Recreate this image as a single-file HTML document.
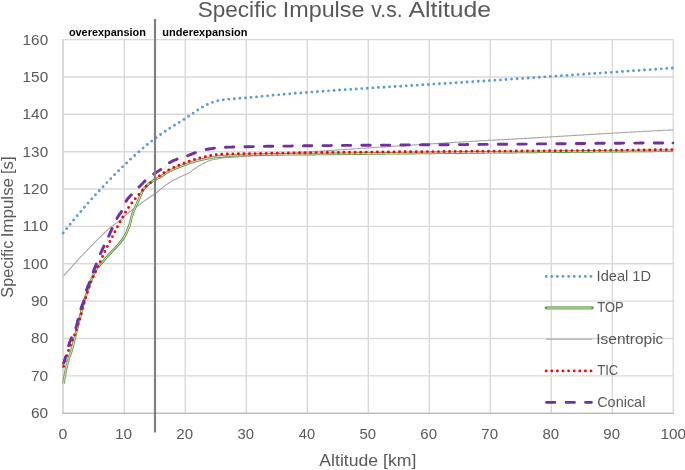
<!DOCTYPE html><html><head><meta charset="utf-8"><style>html,body{margin:0;padding:0;background:#fff;}svg{display:block;will-change:transform;}text{font-family:"Liberation Sans",sans-serif;}</style></head><body>
<svg width="685" height="470" viewBox="0 0 685 470">
<rect width="685" height="470" fill="#fff"/>
<path d="M124.30,39.6 V413.2 M185.30,39.6 V413.2 M246.30,39.6 V413.2 M307.30,39.6 V413.2 M368.30,39.6 V413.2 M429.30,39.6 V413.2 M490.30,39.6 V413.2 M551.30,39.6 V413.2 M612.30,39.6 V413.2 M673.30,39.6 V413.2 M62,39.60 H673.6 M62,76.96 H673.6 M62,114.32 H673.6 M62,151.68 H673.6 M62,189.04 H673.6 M62,226.40 H673.6 M62,263.76 H673.6 M62,301.12 H673.6 M62,338.48 H673.6 M62,375.84 H673.6" stroke="#d9d9d9" stroke-width="1.4" fill="none"/>
<path d="M63,39 V413.2" stroke="#d9d9d9" stroke-width="2" fill="none"/>
<path d="M62,413.3 H674" stroke="#bfbfbf" stroke-width="1.4" fill="none"/>
<text x="22.61" y="44.60" font-size="14.80" textLength="25.55" lengthAdjust="spacingAndGlyphs" fill="#595959">160</text>
<text x="22.61" y="81.96" font-size="14.80" textLength="25.55" lengthAdjust="spacingAndGlyphs" fill="#595959">150</text>
<text x="22.61" y="119.32" font-size="14.80" textLength="25.55" lengthAdjust="spacingAndGlyphs" fill="#595959">140</text>
<text x="22.61" y="156.68" font-size="14.80" textLength="25.55" lengthAdjust="spacingAndGlyphs" fill="#595959">130</text>
<text x="22.61" y="194.04" font-size="14.80" textLength="25.55" lengthAdjust="spacingAndGlyphs" fill="#595959">120</text>
<text x="22.55" y="231.40" font-size="14.80" textLength="25.64" lengthAdjust="spacingAndGlyphs" fill="#595959">110</text>
<text x="22.61" y="268.76" font-size="14.80" textLength="25.55" lengthAdjust="spacingAndGlyphs" fill="#595959">100</text>
<text x="31.07" y="306.12" font-size="14.80" textLength="17.11" lengthAdjust="spacingAndGlyphs" fill="#595959">90</text>
<text x="31.13" y="343.48" font-size="14.80" textLength="17.06" lengthAdjust="spacingAndGlyphs" fill="#595959">80</text>
<text x="31.02" y="380.84" font-size="14.80" textLength="17.17" lengthAdjust="spacingAndGlyphs" fill="#595959">70</text>
<text x="31.02" y="418.20" font-size="14.80" textLength="17.17" lengthAdjust="spacingAndGlyphs" fill="#595959">60</text>
<text x="58.41" y="439.10" font-size="14.80" textLength="8.81" lengthAdjust="spacingAndGlyphs" fill="#595959">0</text>
<text x="114.96" y="439.10" font-size="14.80" textLength="17.13" lengthAdjust="spacingAndGlyphs" fill="#595959">10</text>
<text x="176.34" y="439.10" font-size="14.80" textLength="16.73" lengthAdjust="spacingAndGlyphs" fill="#595959">20</text>
<text x="237.55" y="439.10" font-size="14.80" textLength="16.52" lengthAdjust="spacingAndGlyphs" fill="#595959">30</text>
<text x="298.75" y="439.10" font-size="14.80" textLength="16.30" lengthAdjust="spacingAndGlyphs" fill="#595959">40</text>
<text x="359.50" y="439.10" font-size="14.80" textLength="16.57" lengthAdjust="spacingAndGlyphs" fill="#595959">50</text>
<text x="420.34" y="439.10" font-size="14.80" textLength="16.73" lengthAdjust="spacingAndGlyphs" fill="#595959">60</text>
<text x="481.34" y="439.10" font-size="14.80" textLength="16.73" lengthAdjust="spacingAndGlyphs" fill="#595959">70</text>
<text x="542.44" y="439.10" font-size="14.80" textLength="16.62" lengthAdjust="spacingAndGlyphs" fill="#595959">80</text>
<text x="603.39" y="439.10" font-size="14.80" textLength="16.68" lengthAdjust="spacingAndGlyphs" fill="#595959">90</text>
<text x="660.56" y="439.10" font-size="14.80" textLength="25.55" lengthAdjust="spacingAndGlyphs" fill="#595959">100</text>
<text x="197.78" y="17.20" font-size="22.20" textLength="78.91" lengthAdjust="spacingAndGlyphs" fill="#595959">Specific</text>
<text x="282.75" y="17.20" font-size="22.20" textLength="81.69" lengthAdjust="spacingAndGlyphs" fill="#595959">Impulse</text>
<text x="371.31" y="17.20" font-size="22.20" textLength="31.23" lengthAdjust="spacingAndGlyphs" fill="#595959">v.s.</text>
<text x="408.54" y="17.20" font-size="22.20" textLength="82.57" lengthAdjust="spacingAndGlyphs" fill="#595959">Altitude</text>
<text x="319.35" y="466.30" font-size="17.10" textLength="58.71" lengthAdjust="spacingAndGlyphs" fill="#595959">Altitude</text>
<text x="383.06" y="466.30" font-size="17.10" textLength="33.27" lengthAdjust="spacingAndGlyphs" fill="#595959">[km]</text>
<text transform="translate(13.1,296.90) rotate(-90)" x="-0.75" y="0" font-size="17.4" textLength="56.95" lengthAdjust="spacingAndGlyphs" fill="#595959">Specific</text>
<text transform="translate(13.1,235.80) rotate(-90)" x="-1.56" y="0" font-size="17.4" textLength="59.42" lengthAdjust="spacingAndGlyphs" fill="#595959">Impulse</text>
<text transform="translate(13.1,172.90) rotate(-90)" x="-1.20" y="0" font-size="17.4" textLength="17.68" lengthAdjust="spacingAndGlyphs" fill="#595959">[s]</text>
<text x="68.88" y="35.80" font-size="11.60" font-weight="bold" textLength="77.01" lengthAdjust="spacingAndGlyphs" fill="#000">overexpansion</text>
<text x="162.34" y="35.80" font-size="11.60" font-weight="bold" textLength="85.07" lengthAdjust="spacingAndGlyphs" fill="#000">underexpansion</text>
<path d="M63.7,275.9 L64.7,274.7 L65.7,273.6 L66.7,272.4 L67.7,271.3 L68.7,270.2 L69.7,269.0 L70.7,267.9 L71.7,266.8 L72.7,265.7 L73.7,264.6 L74.7,263.4 L75.7,262.3 L76.7,261.3 L77.7,260.2 L78.7,259.1 L79.7,258.0 L80.7,256.9 L81.7,255.9 L82.7,254.8 L83.7,253.8 L84.7,252.7 L85.7,251.7 L86.7,250.6 L87.7,249.6 L88.7,248.6 L89.7,247.6 L90.7,246.5 L91.7,245.5 L92.7,244.5 L93.7,243.4 L94.7,242.4 L95.7,241.4 L96.7,240.4 L97.7,239.4 L98.7,238.4 L99.7,237.4 L100.7,236.4 L101.7,235.4 L102.7,234.4 L103.7,233.5 L104.7,232.5 L105.7,231.6 L106.7,230.7 L107.7,229.8 L108.7,228.9 L109.7,228.1 L110.7,227.3 L111.7,226.4 L112.7,225.7 L113.7,224.9 L114.7,224.3 L116.0,223.4 L117.2,222.6 L118.2,221.9 L119.2,221.2 L120.2,220.4 L121.2,219.5 L122.2,218.6 L123.2,217.6 L124.2,216.6 L125.2,215.6 L126.2,214.7 L127.2,213.9 L128.2,213.0 L129.2,212.3 L130.2,211.5 L131.2,210.8 L132.2,210.0 L133.2,209.3 L134.2,208.6 L135.2,207.8 L136.2,207.1 L137.2,206.3 L138.2,205.6 L139.2,204.8 L140.2,204.0 L141.2,203.3 L142.2,202.5 L143.2,201.8 L144.2,201.1 L145.2,200.3 L146.2,199.7 L147.2,199.0 L148.2,198.3 L149.4,197.5 L150.7,196.7 L151.9,195.8 L152.9,195.2 L153.9,194.5 L154.9,193.8 L155.9,193.0 L156.9,192.3 L157.9,191.5 L158.9,190.7 L159.9,189.9 L160.9,189.1 L161.9,188.3 L162.9,187.4 L163.9,186.6 L164.9,185.8 L165.9,185.1 L166.9,184.4 L167.9,183.7 L168.9,183.0 L170.2,182.2 L171.4,181.4 L172.7,180.7 L173.9,180.0 L175.2,179.4 L176.4,178.7 L177.7,178.0 L178.9,177.4 L180.2,176.8 L181.4,176.3 L182.7,175.8 L183.9,175.3 L185.2,174.8 L186.4,174.2 L187.7,173.6 L188.9,172.9 L190.2,172.1 L191.2,171.4 L192.2,170.6 L193.2,169.9 L194.2,169.2 L195.2,168.5 L196.2,167.8 L197.2,167.1 L198.4,166.3 L199.7,165.5 L200.9,164.8 L202.2,164.1 L203.4,163.4 L204.7,162.8 L205.9,162.2 L207.2,161.6 L208.4,161.1 L209.7,160.6 L210.9,160.2 L212.2,159.8 L213.4,159.6 L214.7,159.3 L215.9,159.2 L217.2,159.0 L218.4,158.7 L219.7,158.4 L220.9,158.2 L222.2,158.0 L223.4,157.9 L224.7,157.7 L225.9,157.6 L227.2,157.5 L228.4,157.4 L229.7,157.4 L230.9,157.3 L232.2,157.2 L233.4,157.1 L234.7,157.1 L235.9,157.0 L237.2,156.9 L238.4,156.9 L239.7,156.8 L240.9,156.7 L242.2,156.6 L243.4,156.6 L244.7,156.5 L245.9,156.4 L247.2,156.3 L248.4,156.3 L249.7,156.2 L250.9,156.1 L252.2,156.0 L253.4,155.9 L254.7,155.9 L255.9,155.8 L257.2,155.7 L258.4,155.6 L259.7,155.5 L260.9,155.4 L262.2,155.3 L263.4,155.2 L264.7,155.1 L265.9,155.0 L267.2,154.9 L268.4,154.8 L269.7,154.7 L270.9,154.6 L272.2,154.6 L273.4,154.5 L274.7,154.4 L275.9,154.3 L277.2,154.2 L278.4,154.1 L279.7,154.0 L280.9,153.9 L282.2,153.8 L283.4,153.7 L284.7,153.6 L285.9,153.5 L287.2,153.4 L288.4,153.3 L289.7,153.2 L290.9,153.1 L292.2,153.0 L293.4,153.0 L294.7,152.9 L295.9,152.8 L297.2,152.7 L298.4,152.6 L299.7,152.5 L300.9,152.4 L302.2,152.3 L303.4,152.3 L304.7,152.2 L305.9,152.1 L307.2,152.0 L308.4,151.9 L309.7,151.8 L310.9,151.7 L312.2,151.7 L313.4,151.6 L314.7,151.5 L315.9,151.4 L317.2,151.3 L318.4,151.2 L319.7,151.2 L320.9,151.1 L322.2,151.0 L323.4,150.9 L324.7,150.8 L325.9,150.7 L327.2,150.6 L328.4,150.6 L329.7,150.5 L330.9,150.4 L332.2,150.3 L333.4,150.2 L334.7,150.2 L335.9,150.1 L337.2,150.0 L338.4,149.9 L339.7,149.8 L340.9,149.7 L342.2,149.7 L343.4,149.6 L344.7,149.5 L345.9,149.4 L347.2,149.3 L348.4,149.2 L349.7,149.2 L350.9,149.1 L352.2,149.0 L353.4,148.9 L354.7,148.8 L355.9,148.7 L357.2,148.7 L358.4,148.6 L359.7,148.5 L360.9,148.4 L362.2,148.3 L363.4,148.3 L364.7,148.2 L365.9,148.1 L367.2,148.0 L368.4,147.9 L369.7,147.8 L370.9,147.8 L372.2,147.7 L373.4,147.6 L374.7,147.5 L375.9,147.4 L377.2,147.3 L378.4,147.3 L379.7,147.2 L380.9,147.1 L382.2,147.0 L383.4,146.9 L384.7,146.9 L385.9,146.8 L387.2,146.7 L388.4,146.6 L389.7,146.5 L390.9,146.4 L392.2,146.4 L393.4,146.3 L394.7,146.2 L395.9,146.1 L397.2,146.0 L398.4,146.0 L399.7,145.9 L400.9,145.8 L402.2,145.7 L403.4,145.6 L404.7,145.6 L405.9,145.5 L407.2,145.4 L408.4,145.3 L409.7,145.2 L410.9,145.2 L412.2,145.1 L413.4,145.0 L414.7,144.9 L415.9,144.8 L417.2,144.8 L418.4,144.7 L419.7,144.6 L420.9,144.5 L422.2,144.4 L423.4,144.4 L424.7,144.3 L425.9,144.2 L427.2,144.1 L428.4,144.0 L429.7,144.0 L430.9,143.9 L432.2,143.8 L433.4,143.7 L434.7,143.6 L435.9,143.6 L437.2,143.5 L438.4,143.4 L439.7,143.3 L440.9,143.3 L442.2,143.2 L443.4,143.1 L444.7,143.0 L445.9,142.9 L447.2,142.9 L448.4,142.8 L449.7,142.7 L450.9,142.6 L452.2,142.6 L453.4,142.5 L454.7,142.4 L455.9,142.3 L457.2,142.3 L458.4,142.2 L459.7,142.1 L460.9,142.0 L462.2,142.0 L463.4,141.9 L464.7,141.8 L465.9,141.7 L467.2,141.7 L468.4,141.6 L469.7,141.5 L470.9,141.4 L472.2,141.4 L473.4,141.3 L474.7,141.2 L475.9,141.1 L477.2,141.1 L478.4,141.0 L479.7,140.9 L480.9,140.8 L482.2,140.8 L483.4,140.7 L484.7,140.6 L485.9,140.6 L487.2,140.5 L488.4,140.4 L489.7,140.4 L490.9,140.3 L492.2,140.2 L493.4,140.1 L494.7,140.1 L495.9,140.0 L497.2,139.9 L498.4,139.9 L499.7,139.8 L500.9,139.7 L502.2,139.7 L503.4,139.6 L504.7,139.5 L505.9,139.5 L507.2,139.4 L508.4,139.3 L509.7,139.3 L510.9,139.2 L512.2,139.1 L513.5,139.1 L514.7,139.0 L516.0,138.9 L517.2,138.9 L518.5,138.8 L519.7,138.7 L521.0,138.6 L522.2,138.6 L523.5,138.5 L524.7,138.4 L526.0,138.4 L527.2,138.3 L528.5,138.2 L529.7,138.1 L531.0,138.1 L532.2,138.0 L533.5,137.9 L534.7,137.9 L536.0,137.8 L537.2,137.7 L538.5,137.6 L539.7,137.6 L541.0,137.5 L542.2,137.4 L543.5,137.3 L544.7,137.3 L546.0,137.2 L547.2,137.1 L548.5,137.0 L549.7,137.0 L551.0,136.9 L552.2,136.8 L553.5,136.7 L554.7,136.7 L556.0,136.6 L557.2,136.5 L558.5,136.4 L559.7,136.4 L561.0,136.3 L562.2,136.2 L563.5,136.1 L564.7,136.0 L566.0,136.0 L567.2,135.9 L568.5,135.8 L569.7,135.7 L571.0,135.7 L572.2,135.6 L573.5,135.5 L574.7,135.4 L576.0,135.4 L577.2,135.3 L578.5,135.2 L579.7,135.1 L581.0,135.1 L582.2,135.0 L583.5,134.9 L584.7,134.8 L586.0,134.7 L587.2,134.7 L588.5,134.6 L589.7,134.5 L591.0,134.4 L592.2,134.4 L593.5,134.3 L594.7,134.2 L596.0,134.1 L597.2,134.1 L598.5,134.0 L599.7,133.9 L601.0,133.8 L602.2,133.8 L603.5,133.7 L604.7,133.6 L606.0,133.5 L607.2,133.5 L608.5,133.4 L609.7,133.3 L611.0,133.2 L612.2,133.2 L613.5,133.1 L614.7,133.0 L616.0,133.0 L617.2,132.9 L618.5,132.8 L619.7,132.7 L621.0,132.7 L622.2,132.6 L623.5,132.5 L624.7,132.5 L626.0,132.4 L627.2,132.3 L628.5,132.2 L629.7,132.2 L631.0,132.1 L632.2,132.0 L633.5,132.0 L634.7,131.9 L636.0,131.8 L637.2,131.8 L638.5,131.7 L639.7,131.6 L641.0,131.5 L642.2,131.5 L643.5,131.4 L644.7,131.3 L646.0,131.3 L647.2,131.2 L648.5,131.2 L649.7,131.1 L651.0,131.0 L652.2,131.0 L653.5,130.9 L654.7,130.8 L656.0,130.8 L657.2,130.7 L658.5,130.6 L659.7,130.6 L661.0,130.5 L662.2,130.5 L663.5,130.4 L664.7,130.3 L666.0,130.3 L667.2,130.2 L668.5,130.1 L669.7,130.1 L671.0,130.0 L672.2,130.0 L673.3,129.9" stroke="#a5a5a5" stroke-width="1.1" fill="none" stroke-linejoin="round"/>
<path d="M63.5,383.6 L63.8,381.9 L64.0,380.2 L64.2,378.5 L64.5,377.0 L64.8,375.6 L65.0,374.2 L65.2,373.0 L65.5,371.7 L65.8,370.5 L66.0,369.3 L66.5,367.1 L67.0,364.9 L67.5,363.0 L68.0,361.1 L68.5,359.3 L69.0,357.7 L69.5,356.3 L70.0,354.9 L70.5,353.6 L71.0,352.2 L71.5,350.7 L72.0,348.9 L72.5,347.1 L73.0,345.1 L73.5,343.0 L74.0,340.9 L74.5,338.9 L75.0,336.9 L75.5,334.9 L76.0,332.9 L76.5,331.0 L77.0,329.0 L77.5,327.0 L78.0,325.0 L78.5,323.0 L79.0,321.1 L79.5,319.1 L80.0,317.1 L80.5,315.1 L81.0,313.0 L81.5,310.9 L82.0,308.9 L82.5,306.8 L83.0,304.9 L83.5,303.0 L84.0,301.3 L84.5,299.7 L85.0,298.2 L85.5,296.7 L86.0,295.3 L86.5,293.9 L87.0,292.6 L87.5,291.2 L88.0,289.8 L88.5,288.4 L89.0,287.0 L89.5,285.4 L90.0,283.9 L90.5,282.4 L91.0,281.0 L91.5,279.6 L92.0,278.3 L92.5,277.1 L93.0,275.9 L93.5,274.8 L94.2,273.2 L95.0,271.6 L95.8,270.3 L96.5,269.0 L97.2,267.9 L98.0,267.0 L99.0,265.8 L100.0,264.8 L101.0,263.7 L102.0,262.6 L103.0,261.4 L104.0,260.3 L105.0,259.1 L106.0,257.9 L107.0,256.8 L108.0,255.7 L109.0,254.6 L110.0,253.5 L111.0,252.5 L112.0,251.4 L113.0,250.4 L114.0,249.4 L115.0,248.4 L116.0,247.3 L117.0,246.2 L118.0,245.0 L119.0,243.8 L120.0,242.6 L121.0,241.4 L121.8,240.4 L122.5,239.4 L123.2,238.3 L124.0,237.2 L124.8,236.0 L125.5,234.6 L126.2,233.2 L127.0,231.5 L127.5,230.4 L128.0,229.1 L128.5,227.8 L129.0,226.4 L129.5,225.0 L130.0,223.3 L130.5,221.4 L131.0,219.3 L131.5,217.3 L132.0,215.5 L132.5,214.0 L133.0,212.7 L133.5,211.4 L134.0,210.2 L134.5,209.0 L135.0,207.9 L135.5,206.7 L136.0,205.6 L136.8,204.0 L137.5,202.4 L138.2,200.8 L138.8,199.7 L139.2,198.5 L139.8,197.3 L140.2,196.1 L140.8,194.9 L141.2,193.7 L141.8,192.5 L142.5,191.0 L143.2,189.8 L144.0,188.7 L144.8,187.8 L145.8,186.6 L146.8,185.6 L147.8,184.7 L148.8,183.8 L149.8,183.1 L150.8,182.4 L151.8,181.7 L152.8,181.0 L154.0,180.2 L155.2,179.5 L156.5,178.8 L157.8,178.1 L159.0,177.5 L160.2,176.9 L161.5,176.1 L162.8,175.3 L163.8,174.6 L164.8,173.9 L165.8,173.2 L167.0,172.5 L168.2,171.7 L169.5,171.1 L170.8,170.5 L172.0,169.9 L173.2,169.3 L174.5,168.8 L175.8,168.2 L177.0,167.7 L178.2,167.2 L179.5,166.7 L180.8,166.2 L182.0,165.8 L183.2,165.3 L184.5,164.9 L185.8,164.4 L187.0,164.0 L188.2,163.6 L189.5,163.1 L190.8,162.7 L192.0,162.3 L193.2,161.9 L194.5,161.5 L195.8,161.1 L197.0,160.7 L198.2,160.4 L199.5,160.0 L200.8,159.7 L202.0,159.4 L203.2,159.2 L204.5,158.9 L205.8,158.6 L207.0,158.4 L208.2,158.1 L209.5,157.9 L210.8,157.7 L212.0,157.5 L213.2,157.3 L214.5,157.2 L215.8,157.0 L217.0,156.9 L218.2,156.7 L219.5,156.6 L220.8,156.5 L222.0,156.4 L223.2,156.2 L224.5,156.1 L225.8,156.0 L227.0,155.9 L228.2,155.8 L229.5,155.7 L230.8,155.6 L232.0,155.5 L233.2,155.4 L234.5,155.3 L235.8,155.3 L237.0,155.2 L238.2,155.1 L239.5,155.1 L240.8,155.0 L242.0,155.0 L243.2,154.9 L244.5,154.9 L245.8,154.8 L247.0,154.8 L248.2,154.8 L249.5,154.8 L250.8,154.7 L252.0,154.7 L253.2,154.7 L254.5,154.7 L255.8,154.7 L257.0,154.6 L258.2,154.6 L259.5,154.6 L260.8,154.6 L262.0,154.6 L263.2,154.6 L264.5,154.5 L265.8,154.5 L267.0,154.5 L268.2,154.5 L269.5,154.5 L270.8,154.5 L272.0,154.5 L273.2,154.4 L274.5,154.4 L275.8,154.4 L277.0,154.4 L278.2,154.4 L279.5,154.4 L280.8,154.4 L282.0,154.3 L283.2,154.3 L284.5,154.3 L285.8,154.3 L287.0,154.3 L288.2,154.3 L289.5,154.3 L290.8,154.3 L292.0,154.3 L293.2,154.2 L294.5,154.2 L295.8,154.2 L297.0,154.2 L298.2,154.2 L299.5,154.2 L300.8,154.2 L302.0,154.2 L303.2,154.2 L304.5,154.1 L305.8,154.1 L307.0,154.1 L308.2,154.1 L309.5,154.1 L310.8,154.1 L312.0,154.1 L313.2,154.1 L314.5,154.1 L315.8,154.0 L317.0,154.0 L318.2,154.0 L319.5,154.0 L320.8,154.0 L322.0,154.0 L323.2,154.0 L324.5,154.0 L325.8,153.9 L327.0,153.9 L328.2,153.9 L329.5,153.9 L330.8,153.9 L332.0,153.9 L333.2,153.9 L334.5,153.9 L335.8,153.8 L337.0,153.8 L338.2,153.8 L339.5,153.8 L340.8,153.8 L342.0,153.8 L343.2,153.8 L344.5,153.8 L345.8,153.7 L347.0,153.7 L348.2,153.7 L349.5,153.7 L350.8,153.7 L352.0,153.7 L353.2,153.7 L354.5,153.7 L355.8,153.6 L357.0,153.6 L358.2,153.6 L359.5,153.6 L360.8,153.6 L362.0,153.6 L363.2,153.6 L364.5,153.6 L365.8,153.5 L367.0,153.5 L368.2,153.5 L369.5,153.5 L370.8,153.5 L372.0,153.5 L373.2,153.5 L374.5,153.5 L375.8,153.4 L377.0,153.4 L378.2,153.4 L379.5,153.4 L380.8,153.4 L382.0,153.4 L383.2,153.4 L384.5,153.4 L385.8,153.3 L387.0,153.3 L388.2,153.3 L389.5,153.3 L390.8,153.3 L392.0,153.3 L393.2,153.3 L394.5,153.3 L395.8,153.2 L397.0,153.2 L398.2,153.2 L399.5,153.2 L400.8,153.2 L402.0,153.2 L403.2,153.2 L404.5,153.2 L405.8,153.1 L407.0,153.1 L408.2,153.1 L409.5,153.1 L410.8,153.1 L412.0,153.1 L413.2,153.1 L414.5,153.1 L415.8,153.0 L417.0,153.0 L418.2,153.0 L419.5,153.0 L420.8,153.0 L422.0,153.0 L423.2,153.0 L424.5,153.0 L425.8,152.9 L427.0,152.9 L428.2,152.9 L429.5,152.9 L430.8,152.9 L432.0,152.9 L433.2,152.9 L434.5,152.9 L435.8,152.8 L437.0,152.8 L438.2,152.8 L439.5,152.8 L440.8,152.8 L442.0,152.8 L443.2,152.8 L444.5,152.8 L445.8,152.7 L447.0,152.7 L448.2,152.7 L449.5,152.7 L450.8,152.7 L452.0,152.7 L453.2,152.7 L454.5,152.7 L455.8,152.6 L457.0,152.6 L458.2,152.6 L459.5,152.6 L460.8,152.6 L462.0,152.6 L463.2,152.6 L464.5,152.6 L465.8,152.5 L467.0,152.5 L468.2,152.5 L469.5,152.5 L470.8,152.5 L472.0,152.5 L473.2,152.5 L474.5,152.5 L475.8,152.4 L477.0,152.4 L478.2,152.4 L479.5,152.4 L480.8,152.4 L482.0,152.4 L483.2,152.4 L484.5,152.4 L485.8,152.3 L487.0,152.3 L488.2,152.3 L489.5,152.3 L490.8,152.3 L492.0,152.3 L493.2,152.3 L494.5,152.3 L495.8,152.3 L497.0,152.2 L498.2,152.2 L499.5,152.2 L500.8,152.2 L502.0,152.2 L503.2,152.2 L504.5,152.2 L505.8,152.2 L507.0,152.1 L508.2,152.1 L509.5,152.1 L510.8,152.1 L512.0,152.1 L513.2,152.1 L514.5,152.1 L515.8,152.1 L517.0,152.0 L518.2,152.0 L519.5,152.0 L520.8,152.0 L522.0,152.0 L523.2,152.0 L524.5,152.0 L525.8,152.0 L527.0,152.0 L528.2,151.9 L529.5,151.9 L530.8,151.9 L532.0,151.9 L533.2,151.9 L534.5,151.9 L535.8,151.9 L537.0,151.9 L538.2,151.8 L539.5,151.8 L540.8,151.8 L542.0,151.8 L543.2,151.8 L544.5,151.8 L545.8,151.8 L547.0,151.8 L548.2,151.8 L549.5,151.7 L550.8,151.7 L552.0,151.7 L553.2,151.7 L554.5,151.7 L555.8,151.7 L557.0,151.7 L558.2,151.7 L559.5,151.6 L560.8,151.6 L562.0,151.6 L563.2,151.6 L564.5,151.6 L565.8,151.6 L567.0,151.6 L568.2,151.6 L569.5,151.6 L570.8,151.5 L572.0,151.5 L573.2,151.5 L574.5,151.5 L575.8,151.5 L577.0,151.5 L578.2,151.5 L579.5,151.5 L580.8,151.5 L582.0,151.4 L583.2,151.4 L584.5,151.4 L585.8,151.4 L587.0,151.4 L588.2,151.4 L589.5,151.4 L590.8,151.4 L592.0,151.4 L593.2,151.3 L594.5,151.3 L595.8,151.3 L597.0,151.3 L598.2,151.3 L599.5,151.3 L600.8,151.3 L602.0,151.3 L603.2,151.3 L604.5,151.2 L605.8,151.2 L607.0,151.2 L608.2,151.2 L609.5,151.2 L610.8,151.2 L612.0,151.2 L613.2,151.2 L614.5,151.2 L615.8,151.2 L617.0,151.1 L618.2,151.1 L619.5,151.1 L620.8,151.1 L622.0,151.1 L623.2,151.1 L624.5,151.1 L625.8,151.1 L627.0,151.1 L628.2,151.0 L629.5,151.0 L630.8,151.0 L632.0,151.0 L633.2,151.0 L634.5,151.0 L635.8,151.0 L637.0,151.0 L638.2,151.0 L639.5,151.0 L640.8,150.9 L642.0,150.9 L643.2,150.9 L644.5,150.9 L645.8,150.9 L647.0,150.9 L648.2,150.9 L649.5,150.9 L650.8,150.9 L652.0,150.9 L653.2,150.9 L654.5,150.8 L655.8,150.8 L657.0,150.8 L658.2,150.8 L659.5,150.8 L660.8,150.8 L662.0,150.8 L663.2,150.8 L664.5,150.8 L665.8,150.8 L667.0,150.7 L668.2,150.7 L669.5,150.7 L670.8,150.7 L672.0,150.7 L673.0,150.7" stroke="#5f9445" stroke-width="2.6" fill="none" stroke-linecap="butt" stroke-linejoin="round"/>
<path d="M63.5,383.6 L63.8,381.9 L64.0,380.2 L64.2,378.5 L64.5,377.0 L64.8,375.6 L65.0,374.2 L65.2,373.0 L65.5,371.7 L65.8,370.5 L66.0,369.3 L66.5,367.1 L67.0,364.9 L67.5,363.0 L68.0,361.1 L68.5,359.3 L69.0,357.7 L69.5,356.3 L70.0,354.9 L70.5,353.6 L71.0,352.2 L71.5,350.7 L72.0,348.9 L72.5,347.1 L73.0,345.1 L73.5,343.0 L74.0,340.9 L74.5,338.9 L75.0,336.9 L75.5,334.9 L76.0,332.9 L76.5,331.0 L77.0,329.0 L77.5,327.0 L78.0,325.0 L78.5,323.0 L79.0,321.1 L79.5,319.1 L80.0,317.1 L80.5,315.1 L81.0,313.0 L81.5,310.9 L82.0,308.9 L82.5,306.8 L83.0,304.9 L83.5,303.0 L84.0,301.3 L84.5,299.7 L85.0,298.2 L85.5,296.7 L86.0,295.3 L86.5,293.9 L87.0,292.6 L87.5,291.2 L88.0,289.8 L88.5,288.4 L89.0,287.0 L89.5,285.4 L90.0,283.9 L90.5,282.4 L91.0,281.0 L91.5,279.6 L92.0,278.3 L92.5,277.1 L93.0,275.9 L93.5,274.8 L94.2,273.2 L95.0,271.6 L95.8,270.3 L96.5,269.0 L97.2,267.9 L98.0,267.0 L99.0,265.8 L100.0,264.8 L101.0,263.7 L102.0,262.6 L103.0,261.4 L104.0,260.3 L105.0,259.1 L106.0,257.9 L107.0,256.8 L108.0,255.7 L109.0,254.6 L110.0,253.5 L111.0,252.5 L112.0,251.4 L113.0,250.4 L114.0,249.4 L115.0,248.4 L116.0,247.3 L117.0,246.2 L118.0,245.0 L119.0,243.8 L120.0,242.6 L121.0,241.4 L121.8,240.4 L122.5,239.4 L123.2,238.3 L124.0,237.2 L124.8,236.0 L125.5,234.6 L126.2,233.2 L127.0,231.5 L127.5,230.4 L128.0,229.1 L128.5,227.8 L129.0,226.4 L129.5,225.0 L130.0,223.3 L130.5,221.4 L131.0,219.3 L131.5,217.3 L132.0,215.5 L132.5,214.0 L133.0,212.7 L133.5,211.4 L134.0,210.2 L134.5,209.0 L135.0,207.9 L135.5,206.7 L136.0,205.6 L136.8,204.0 L137.5,202.4 L138.2,200.8 L138.8,199.7 L139.2,198.5 L139.8,197.3 L140.2,196.1 L140.8,194.9 L141.2,193.7 L141.8,192.5 L142.5,191.0 L143.2,189.8 L144.0,188.7 L144.8,187.8 L145.8,186.6 L146.8,185.6 L147.8,184.7 L148.8,183.8 L149.8,183.1 L150.8,182.4 L151.8,181.7 L152.8,181.0 L154.0,180.2 L155.2,179.5 L156.5,178.8 L157.8,178.1 L159.0,177.5 L160.2,176.9 L161.5,176.1 L162.8,175.3 L163.8,174.6 L164.8,173.9 L165.8,173.2 L167.0,172.5 L168.2,171.7 L169.5,171.1 L170.8,170.5 L172.0,169.9 L173.2,169.3 L174.5,168.8 L175.8,168.2 L177.0,167.7 L178.2,167.2 L179.5,166.7 L180.8,166.2 L182.0,165.8 L183.2,165.3 L184.5,164.9 L185.8,164.4 L187.0,164.0 L188.2,163.6 L189.5,163.1 L190.8,162.7 L192.0,162.3 L193.2,161.9 L194.5,161.5 L195.8,161.1 L197.0,160.7 L198.2,160.4 L199.5,160.0 L200.8,159.7 L202.0,159.4 L203.2,159.2 L204.5,158.9 L205.8,158.6 L207.0,158.4 L208.2,158.1 L209.5,157.9 L210.8,157.7 L212.0,157.5 L213.2,157.3 L214.5,157.2 L215.8,157.0 L217.0,156.9 L218.2,156.7 L219.5,156.6 L220.8,156.5 L222.0,156.4 L223.2,156.2 L224.5,156.1 L225.8,156.0 L227.0,155.9 L228.2,155.8 L229.5,155.7 L230.8,155.6 L232.0,155.5 L233.2,155.4 L234.5,155.3 L235.8,155.3 L237.0,155.2 L238.2,155.1 L239.5,155.1 L240.8,155.0 L242.0,155.0 L243.2,154.9 L244.5,154.9 L245.8,154.8 L247.0,154.8 L248.2,154.8 L249.5,154.8 L250.8,154.7 L252.0,154.7 L253.2,154.7 L254.5,154.7 L255.8,154.7 L257.0,154.6 L258.2,154.6 L259.5,154.6 L260.8,154.6 L262.0,154.6 L263.2,154.6 L264.5,154.5 L265.8,154.5 L267.0,154.5 L268.2,154.5 L269.5,154.5 L270.8,154.5 L272.0,154.5 L273.2,154.4 L274.5,154.4 L275.8,154.4 L277.0,154.4 L278.2,154.4 L279.5,154.4 L280.8,154.4 L282.0,154.3 L283.2,154.3 L284.5,154.3 L285.8,154.3 L287.0,154.3 L288.2,154.3 L289.5,154.3 L290.8,154.3 L292.0,154.3 L293.2,154.2 L294.5,154.2 L295.8,154.2 L297.0,154.2 L298.2,154.2 L299.5,154.2 L300.8,154.2 L302.0,154.2 L303.2,154.2 L304.5,154.1 L305.8,154.1 L307.0,154.1 L308.2,154.1 L309.5,154.1 L310.8,154.1 L312.0,154.1 L313.2,154.1 L314.5,154.1 L315.8,154.0 L317.0,154.0 L318.2,154.0 L319.5,154.0 L320.8,154.0 L322.0,154.0 L323.2,154.0 L324.5,154.0 L325.8,153.9 L327.0,153.9 L328.2,153.9 L329.5,153.9 L330.8,153.9 L332.0,153.9 L333.2,153.9 L334.5,153.9 L335.8,153.8 L337.0,153.8 L338.2,153.8 L339.5,153.8 L340.8,153.8 L342.0,153.8 L343.2,153.8 L344.5,153.8 L345.8,153.7 L347.0,153.7 L348.2,153.7 L349.5,153.7 L350.8,153.7 L352.0,153.7 L353.2,153.7 L354.5,153.7 L355.8,153.6 L357.0,153.6 L358.2,153.6 L359.5,153.6 L360.8,153.6 L362.0,153.6 L363.2,153.6 L364.5,153.6 L365.8,153.5 L367.0,153.5 L368.2,153.5 L369.5,153.5 L370.8,153.5 L372.0,153.5 L373.2,153.5 L374.5,153.5 L375.8,153.4 L377.0,153.4 L378.2,153.4 L379.5,153.4 L380.8,153.4 L382.0,153.4 L383.2,153.4 L384.5,153.4 L385.8,153.3 L387.0,153.3 L388.2,153.3 L389.5,153.3 L390.8,153.3 L392.0,153.3 L393.2,153.3 L394.5,153.3 L395.8,153.2 L397.0,153.2 L398.2,153.2 L399.5,153.2 L400.8,153.2 L402.0,153.2 L403.2,153.2 L404.5,153.2 L405.8,153.1 L407.0,153.1 L408.2,153.1 L409.5,153.1 L410.8,153.1 L412.0,153.1 L413.2,153.1 L414.5,153.1 L415.8,153.0 L417.0,153.0 L418.2,153.0 L419.5,153.0 L420.8,153.0 L422.0,153.0 L423.2,153.0 L424.5,153.0 L425.8,152.9 L427.0,152.9 L428.2,152.9 L429.5,152.9 L430.8,152.9 L432.0,152.9 L433.2,152.9 L434.5,152.9 L435.8,152.8 L437.0,152.8 L438.2,152.8 L439.5,152.8 L440.8,152.8 L442.0,152.8 L443.2,152.8 L444.5,152.8 L445.8,152.7 L447.0,152.7 L448.2,152.7 L449.5,152.7 L450.8,152.7 L452.0,152.7 L453.2,152.7 L454.5,152.7 L455.8,152.6 L457.0,152.6 L458.2,152.6 L459.5,152.6 L460.8,152.6 L462.0,152.6 L463.2,152.6 L464.5,152.6 L465.8,152.5 L467.0,152.5 L468.2,152.5 L469.5,152.5 L470.8,152.5 L472.0,152.5 L473.2,152.5 L474.5,152.5 L475.8,152.4 L477.0,152.4 L478.2,152.4 L479.5,152.4 L480.8,152.4 L482.0,152.4 L483.2,152.4 L484.5,152.4 L485.8,152.3 L487.0,152.3 L488.2,152.3 L489.5,152.3 L490.8,152.3 L492.0,152.3 L493.2,152.3 L494.5,152.3 L495.8,152.3 L497.0,152.2 L498.2,152.2 L499.5,152.2 L500.8,152.2 L502.0,152.2 L503.2,152.2 L504.5,152.2 L505.8,152.2 L507.0,152.1 L508.2,152.1 L509.5,152.1 L510.8,152.1 L512.0,152.1 L513.2,152.1 L514.5,152.1 L515.8,152.1 L517.0,152.0 L518.2,152.0 L519.5,152.0 L520.8,152.0 L522.0,152.0 L523.2,152.0 L524.5,152.0 L525.8,152.0 L527.0,152.0 L528.2,151.9 L529.5,151.9 L530.8,151.9 L532.0,151.9 L533.2,151.9 L534.5,151.9 L535.8,151.9 L537.0,151.9 L538.2,151.8 L539.5,151.8 L540.8,151.8 L542.0,151.8 L543.2,151.8 L544.5,151.8 L545.8,151.8 L547.0,151.8 L548.2,151.8 L549.5,151.7 L550.8,151.7 L552.0,151.7 L553.2,151.7 L554.5,151.7 L555.8,151.7 L557.0,151.7 L558.2,151.7 L559.5,151.6 L560.8,151.6 L562.0,151.6 L563.2,151.6 L564.5,151.6 L565.8,151.6 L567.0,151.6 L568.2,151.6 L569.5,151.6 L570.8,151.5 L572.0,151.5 L573.2,151.5 L574.5,151.5 L575.8,151.5 L577.0,151.5 L578.2,151.5 L579.5,151.5 L580.8,151.5 L582.0,151.4 L583.2,151.4 L584.5,151.4 L585.8,151.4 L587.0,151.4 L588.2,151.4 L589.5,151.4 L590.8,151.4 L592.0,151.4 L593.2,151.3 L594.5,151.3 L595.8,151.3 L597.0,151.3 L598.2,151.3 L599.5,151.3 L600.8,151.3 L602.0,151.3 L603.2,151.3 L604.5,151.2 L605.8,151.2 L607.0,151.2 L608.2,151.2 L609.5,151.2 L610.8,151.2 L612.0,151.2 L613.2,151.2 L614.5,151.2 L615.8,151.2 L617.0,151.1 L618.2,151.1 L619.5,151.1 L620.8,151.1 L622.0,151.1 L623.2,151.1 L624.5,151.1 L625.8,151.1 L627.0,151.1 L628.2,151.0 L629.5,151.0 L630.8,151.0 L632.0,151.0 L633.2,151.0 L634.5,151.0 L635.8,151.0 L637.0,151.0 L638.2,151.0 L639.5,151.0 L640.8,150.9 L642.0,150.9 L643.2,150.9 L644.5,150.9 L645.8,150.9 L647.0,150.9 L648.2,150.9 L649.5,150.9 L650.8,150.9 L652.0,150.9 L653.2,150.9 L654.5,150.8 L655.8,150.8 L657.0,150.8 L658.2,150.8 L659.5,150.8 L660.8,150.8 L662.0,150.8 L663.2,150.8 L664.5,150.8 L665.8,150.8 L667.0,150.7 L668.2,150.7 L669.5,150.7 L670.8,150.7 L672.0,150.7 L673.0,150.7" stroke="#ffffff" stroke-width="0.85" fill="none" stroke-linecap="butt" stroke-linejoin="round" opacity="0.9"/>
<path d="M63.6,366.4 L64.1,364.6 L64.6,362.9 L65.1,361.2 L65.6,359.5 L66.1,357.8 L66.6,356.2 L67.1,354.6 L67.6,353.1 L68.1,351.6 L68.6,350.1 L69.1,348.7 L69.6,347.3 L70.1,346.0 L70.6,344.8 L71.1,343.6 L71.6,342.4 L72.1,341.2 L72.6,339.9 L73.1,338.7 L73.6,337.4 L74.1,336.1 L74.6,334.8 L75.1,333.4 L75.6,331.9 L76.1,330.4 L76.6,328.9 L77.1,327.4 L77.6,325.8 L78.1,324.2 L78.6,322.6 L79.1,321.0 L79.6,319.3 L80.1,317.7 L80.6,316.0 L81.1,314.3 L81.6,312.6 L82.1,310.8 L82.6,309.0 L83.1,307.1 L83.6,305.2 L84.1,303.3 L84.6,301.5 L85.1,299.7 L85.6,297.9 L86.1,296.2 L86.6,294.6 L87.1,293.0 L87.6,291.4 L88.1,289.9 L88.6,288.4 L89.1,287.0 L89.6,285.5 L90.1,284.2 L90.6,282.9 L91.1,281.6 L91.6,280.4 L92.1,279.3 L92.6,278.1 L93.1,277.0 L93.8,275.4 L94.6,273.8 L95.3,272.2 L96.1,270.6 L96.8,268.9 L97.6,267.4 L98.3,265.8 L99.1,264.2 L99.8,262.6 L100.6,261.0 L101.1,259.9 L101.6,258.7 L102.1,257.6 L102.6,256.5 L103.1,255.4 L103.6,254.2 L104.1,253.1 L104.8,251.5 L105.6,249.9 L106.3,248.4 L107.1,246.9 L107.8,245.4 L108.6,243.9 L109.3,242.5 L110.1,241.0 L110.8,239.5 L111.6,238.1 L112.3,236.7 L113.1,235.2 L113.8,233.8 L114.6,232.4 L115.3,230.9 L116.1,229.5 L116.8,228.0 L117.6,226.5 L118.3,225.1 L119.1,223.7 L119.8,222.2 L120.6,220.9 L121.3,219.5 L122.1,218.1 L122.8,216.8 L123.6,215.4 L124.3,214.1 L125.1,212.9 L125.8,211.7 L126.6,210.5 L127.3,209.3 L128.1,208.2 L128.8,207.1 L129.6,206.0 L130.3,205.0 L131.1,203.9 L131.8,202.9 L132.6,202.0 L133.3,201.0 L134.3,199.8 L135.3,198.6 L136.3,197.4 L137.3,196.3 L138.3,195.2 L139.3,194.0 L140.3,192.9 L141.3,191.7 L142.3,190.5 L143.3,189.4 L144.3,188.3 L145.3,187.2 L146.3,186.2 L147.3,185.3 L148.3,184.4 L149.3,183.6 L150.3,182.8 L151.3,182.1 L152.3,181.3 L153.3,180.6 L154.3,179.8 L155.3,179.1 L156.3,178.3 L157.3,177.5 L158.3,176.8 L159.3,176.0 L160.3,175.2 L161.3,174.5 L162.3,173.8 L163.3,173.1 L164.6,172.3 L165.8,171.6 L167.1,170.8 L168.3,170.1 L169.6,169.5 L170.8,168.8 L172.1,168.2 L173.3,167.6 L174.6,167.0 L175.8,166.5 L177.1,165.9 L178.3,165.4 L179.6,164.9 L180.8,164.4 L182.1,163.9 L183.3,163.5 L184.6,163.0 L185.8,162.5 L187.1,162.0 L188.3,161.6 L189.6,161.1 L190.8,160.7 L192.1,160.2 L193.3,159.8 L194.6,159.4 L195.8,159.1 L197.1,158.7 L198.3,158.4 L199.6,158.1 L200.8,157.7 L202.1,157.4 L203.3,157.2 L204.6,156.9 L205.8,156.6 L207.1,156.3 L208.3,156.1 L209.6,155.8 L210.8,155.5 L212.1,155.3 L213.3,155.1 L214.6,154.9 L215.8,154.7 L217.1,154.6 L218.3,154.5 L219.6,154.4 L220.8,154.3 L222.1,154.2 L223.3,154.2 L224.6,154.1 L225.8,154.1 L227.1,154.0 L228.3,154.0 L229.6,154.0 L230.8,153.9 L232.1,153.9 L233.3,153.9 L234.6,153.9 L235.8,153.8 L237.1,153.8 L238.3,153.8 L239.6,153.8 L240.8,153.8 L242.1,153.8 L243.3,153.7 L244.6,153.7 L245.8,153.7 L247.1,153.7 L248.3,153.7 L249.6,153.7 L250.8,153.7 L252.1,153.6 L253.3,153.6 L254.6,153.6 L255.8,153.6 L257.1,153.6 L258.4,153.6 L259.6,153.5 L260.9,153.5 L262.1,153.5 L263.4,153.5 L264.6,153.4 L265.9,153.4 L267.1,153.4 L268.4,153.4 L269.6,153.4 L270.9,153.3 L272.1,153.3 L273.4,153.3 L274.6,153.3 L275.9,153.3 L277.1,153.2 L278.4,153.2 L279.6,153.2 L280.9,153.2 L282.1,153.1 L283.4,153.1 L284.6,153.1 L285.9,153.1 L287.1,153.1 L288.4,153.0 L289.6,153.0 L290.9,153.0 L292.1,153.0 L293.4,152.9 L294.6,152.9 L295.9,152.9 L297.1,152.9 L298.4,152.9 L299.6,152.8 L300.9,152.8 L302.1,152.8 L303.4,152.8 L304.6,152.8 L305.9,152.7 L307.1,152.7 L308.4,152.7 L309.6,152.7 L310.9,152.7 L312.1,152.7 L313.4,152.6 L314.6,152.6 L315.9,152.6 L317.1,152.6 L318.4,152.6 L319.6,152.6 L320.9,152.6 L322.1,152.5 L323.4,152.5 L324.6,152.5 L325.9,152.5 L327.1,152.5 L328.4,152.5 L329.6,152.5 L330.9,152.4 L332.1,152.4 L333.4,152.4 L334.6,152.4 L335.9,152.4 L337.1,152.4 L338.4,152.4 L339.6,152.4 L340.9,152.3 L342.1,152.3 L343.4,152.3 L344.6,152.3 L345.9,152.3 L347.1,152.3 L348.4,152.3 L349.6,152.3 L350.9,152.2 L352.1,152.2 L353.4,152.2 L354.6,152.2 L355.9,152.2 L357.1,152.2 L358.4,152.2 L359.6,152.2 L360.9,152.2 L362.1,152.1 L363.4,152.1 L364.6,152.1 L365.9,152.1 L367.1,152.1 L368.4,152.1 L369.6,152.1 L370.9,152.1 L372.1,152.1 L373.4,152.0 L374.6,152.0 L375.9,152.0 L377.1,152.0 L378.4,152.0 L379.6,152.0 L380.9,152.0 L382.1,152.0 L383.4,152.0 L384.6,151.9 L385.9,151.9 L387.1,151.9 L388.4,151.9 L389.6,151.9 L390.9,151.9 L392.1,151.9 L393.4,151.9 L394.6,151.9 L395.9,151.9 L397.1,151.8 L398.4,151.8 L399.6,151.8 L400.9,151.8 L402.1,151.8 L403.4,151.8 L404.6,151.8 L405.9,151.8 L407.1,151.8 L408.4,151.8 L409.6,151.8 L410.9,151.7 L412.1,151.7 L413.4,151.7 L414.6,151.7 L415.9,151.7 L417.1,151.7 L418.4,151.7 L419.6,151.7 L420.9,151.7 L422.1,151.7 L423.4,151.7 L424.6,151.6 L425.9,151.6 L427.1,151.6 L428.4,151.6 L429.6,151.6 L430.9,151.6 L432.1,151.6 L433.4,151.6 L434.6,151.6 L435.9,151.6 L437.1,151.6 L438.4,151.6 L439.6,151.5 L440.9,151.5 L442.1,151.5 L443.4,151.5 L444.6,151.5 L445.9,151.5 L447.1,151.5 L448.4,151.5 L449.6,151.5 L450.9,151.5 L452.1,151.5 L453.4,151.4 L454.6,151.4 L455.9,151.4 L457.1,151.4 L458.4,151.4 L459.6,151.4 L460.9,151.4 L462.1,151.4 L463.4,151.4 L464.6,151.4 L465.9,151.4 L467.1,151.4 L468.4,151.4 L469.6,151.3 L470.9,151.3 L472.1,151.3 L473.4,151.3 L474.6,151.3 L475.9,151.3 L477.1,151.3 L478.4,151.3 L479.6,151.3 L480.9,151.3 L482.1,151.3 L483.4,151.3 L484.6,151.2 L485.9,151.2 L487.1,151.2 L488.4,151.2 L489.6,151.2 L490.9,151.2 L492.1,151.2 L493.4,151.2 L494.6,151.2 L495.9,151.2 L497.1,151.2 L498.4,151.2 L499.6,151.1 L500.9,151.1 L502.1,151.1 L503.4,151.1 L504.6,151.1 L505.9,151.1 L507.1,151.1 L508.4,151.1 L509.6,151.1 L510.9,151.1 L512.1,151.1 L513.4,151.1 L514.6,151.1 L515.9,151.0 L517.1,151.0 L518.4,151.0 L519.6,151.0 L520.9,151.0 L522.1,151.0 L523.4,151.0 L524.6,151.0 L525.9,151.0 L527.1,151.0 L528.4,151.0 L529.6,150.9 L530.9,150.9 L532.1,150.9 L533.4,150.9 L534.6,150.9 L535.9,150.9 L537.1,150.9 L538.4,150.9 L539.6,150.9 L540.9,150.9 L542.1,150.9 L543.4,150.9 L544.6,150.8 L545.9,150.8 L547.1,150.8 L548.4,150.8 L549.6,150.8 L550.9,150.8 L552.1,150.8 L553.4,150.8 L554.6,150.8 L555.9,150.8 L557.1,150.8 L558.4,150.7 L559.6,150.7 L560.9,150.7 L562.1,150.7 L563.4,150.7 L564.6,150.7 L565.9,150.7 L567.1,150.7 L568.4,150.7 L569.6,150.7 L570.9,150.6 L572.1,150.6 L573.4,150.6 L574.6,150.6 L575.9,150.6 L577.1,150.6 L578.4,150.6 L579.6,150.6 L580.9,150.6 L582.1,150.6 L583.4,150.5 L584.6,150.5 L585.9,150.5 L587.1,150.5 L588.4,150.5 L589.6,150.5 L590.9,150.5 L592.1,150.5 L593.4,150.5 L594.6,150.4 L595.9,150.4 L597.1,150.4 L598.4,150.4 L599.6,150.4 L600.9,150.4 L602.1,150.4 L603.4,150.4 L604.6,150.4 L605.9,150.3 L607.1,150.3 L608.4,150.3 L609.6,150.3 L610.9,150.3 L612.1,150.3 L613.4,150.3 L614.6,150.3 L615.9,150.2 L617.1,150.2 L618.4,150.2 L619.6,150.2 L620.9,150.2 L622.1,150.2 L623.4,150.2 L624.6,150.2 L625.9,150.1 L627.1,150.1 L628.4,150.1 L629.6,150.1 L630.9,150.1 L632.1,150.1 L633.4,150.1 L634.6,150.0 L635.9,150.0 L637.1,150.0 L638.4,150.0 L639.6,150.0 L640.9,150.0 L642.1,150.0 L643.4,149.9 L644.6,149.9 L645.9,149.9 L647.1,149.9 L648.4,149.9 L649.6,149.9 L650.9,149.9 L652.1,149.8 L653.4,149.8 L654.6,149.8 L655.9,149.8 L657.1,149.8 L658.4,149.8 L659.6,149.7 L660.9,149.7 L662.1,149.7 L663.4,149.7 L664.6,149.7 L665.9,149.7 L667.1,149.7 L668.4,149.6 L669.6,149.6 L670.9,149.6 L672.0,149.6" stroke="#ff0000" stroke-width="2.90" fill="none" stroke-linecap="round" stroke-dasharray="0 5.56"/>
<path d="M63.6,363.2 L64.1,361.8 L64.6,360.2 L65.1,358.7 L65.6,357.0 L66.1,355.3 L66.6,353.6 L67.1,351.6 L67.6,349.6 L68.1,347.6 L68.6,345.7 L69.1,344.1 L69.6,342.6 L70.1,341.3 L70.6,340.0 L71.1,338.8 L71.6,337.6 L72.1,336.4 L72.6,335.2 L73.1,334.1 L73.8,332.5 L74.6,330.9 L75.1,329.7 L75.6,328.4 L76.1,327.0 L76.6,325.3 L77.1,323.3 L77.6,321.1 L78.1,319.0 L78.6,317.0 L79.1,315.2 L79.6,313.4 L80.1,311.6 L80.6,309.9 L81.1,308.2 L81.6,306.7 L82.1,305.3 L82.6,304.1 L83.1,302.8 L83.6,301.5 L84.1,300.1 L84.6,298.4 L85.1,296.3 L85.6,294.0 L86.1,291.7 L86.6,289.7 L87.1,288.2 L87.6,286.9 L88.1,285.7 L88.6,284.6 L89.3,282.9 L89.8,281.8 L90.3,280.5 L90.8,279.2 L91.3,277.7 L91.8,276.2 L92.3,274.6 L92.8,273.1 L93.3,271.7 L93.8,270.3 L94.3,269.0 L94.8,267.7 L95.3,266.5 L95.8,265.3 L96.3,264.0 L96.8,262.8 L97.3,261.6 L97.8,260.3 L98.3,259.1 L98.8,257.8 L99.3,256.6 L99.8,255.4 L100.3,254.2 L100.8,253.0 L101.3,251.8 L101.8,250.7 L102.3,249.6 L103.1,248.0 L103.8,246.4 L104.6,244.8 L105.3,243.2 L106.1,241.6 L106.8,240.0 L107.6,238.4 L108.3,236.8 L109.1,235.2 L109.8,233.6 L110.3,232.5 L110.8,231.4 L111.3,230.3 L111.8,229.2 L112.6,227.5 L113.3,225.9 L113.8,224.8 L114.3,223.7 L114.8,222.6 L115.6,221.0 L116.3,219.5 L117.1,218.1 L117.8,216.8 L118.6,215.7 L119.3,214.6 L120.1,213.6 L120.8,212.5 L121.6,211.3 L122.3,209.9 L123.1,208.3 L123.6,207.1 L124.1,205.8 L124.6,204.5 L125.1,203.3 L125.6,202.2 L126.3,200.8 L127.1,199.7 L127.8,198.7 L128.8,197.5 L129.8,196.4 L130.8,195.3 L131.8,194.3 L132.8,193.2 L133.8,192.2 L134.8,191.2 L135.8,190.2 L136.8,189.2 L137.8,188.2 L138.8,187.2 L139.8,186.2 L140.8,185.2 L141.8,184.2 L142.8,183.2 L143.8,182.1 L144.8,181.1 L145.8,180.2 L146.8,179.3 L147.8,178.5 L148.8,177.7 L149.8,176.9 L150.8,176.1 L151.8,175.3 L152.8,174.6 L153.8,173.9 L154.8,173.2 L156.1,172.4 L157.3,171.7 L158.6,170.9 L159.8,170.1 L161.1,169.3 L162.1,168.6 L163.1,167.9 L164.1,167.0 L165.1,166.1 L166.1,165.2 L167.1,164.4 L168.1,163.6 L169.1,162.9 L170.3,162.2 L171.6,161.5 L172.8,160.9 L174.1,160.3 L175.3,159.8 L176.6,159.3 L177.8,158.8 L179.1,158.4 L180.3,158.0 L181.6,157.6 L182.8,157.2 L184.1,156.9 L185.3,156.5 L186.6,156.1 L187.8,155.7 L189.1,155.2 L190.3,154.7 L191.6,154.2 L192.8,153.7 L194.1,153.2 L195.3,152.7 L196.6,152.3 L197.8,151.9 L199.1,151.5 L200.3,151.1 L201.6,150.7 L202.8,150.3 L204.1,150.0 L205.3,149.7 L206.6,149.4 L207.8,149.2 L209.1,149.0 L210.3,148.8 L211.6,148.6 L212.8,148.4 L214.1,148.2 L215.3,148.1 L216.6,148.0 L217.8,147.8 L219.1,147.7 L220.3,147.5 L221.6,147.4 L222.8,147.3 L224.1,147.3 L225.3,147.2 L226.6,147.2 L227.8,147.1 L229.1,147.1 L230.3,147.1 L231.6,147.1 L232.8,147.0 L234.1,147.0 L235.3,147.0 L236.6,147.0 L237.8,146.9 L239.1,146.9 L240.3,146.8 L241.6,146.8 L242.8,146.7 L244.1,146.7 L245.3,146.7 L246.6,146.7 L247.8,146.7 L249.1,146.7 L250.3,146.6 L251.6,146.6 L252.8,146.6 L254.1,146.6 L255.3,146.6 L256.6,146.6 L257.9,146.5 L259.1,146.5 L260.4,146.5 L261.6,146.5 L262.9,146.4 L264.1,146.4 L265.4,146.4 L266.6,146.3 L267.9,146.3 L269.1,146.3 L270.4,146.3 L271.6,146.3 L272.9,146.3 L274.1,146.2 L275.4,146.2 L276.6,146.2 L277.9,146.2 L279.1,146.2 L280.4,146.2 L281.6,146.2 L282.9,146.2 L284.1,146.1 L285.4,146.1 L286.6,146.1 L287.9,146.1 L289.1,146.1 L290.4,146.1 L291.6,146.0 L292.9,146.0 L294.1,146.0 L295.4,146.0 L296.6,146.0 L297.9,145.9 L299.1,145.9 L300.4,145.9 L301.6,145.9 L302.9,145.9 L304.1,145.8 L305.4,145.8 L306.6,145.8 L307.9,145.8 L309.1,145.8 L310.4,145.8 L311.6,145.8 L312.9,145.7 L314.1,145.7 L315.4,145.7 L316.6,145.7 L317.9,145.7 L319.1,145.7 L320.4,145.7 L321.6,145.6 L322.9,145.6 L324.1,145.6 L325.4,145.6 L326.6,145.6 L327.9,145.6 L329.1,145.6 L330.4,145.6 L331.6,145.5 L332.9,145.5 L334.1,145.5 L335.4,145.5 L336.6,145.5 L337.9,145.5 L339.1,145.5 L340.4,145.5 L341.6,145.5 L342.9,145.4 L344.1,145.4 L345.4,145.4 L346.6,145.4 L347.9,145.4 L349.1,145.4 L350.4,145.4 L351.6,145.4 L352.9,145.4 L354.1,145.3 L355.4,145.3 L356.6,145.3 L357.9,145.3 L359.1,145.3 L360.4,145.3 L361.6,145.3 L362.9,145.3 L364.1,145.3 L365.4,145.3 L366.6,145.2 L367.9,145.2 L369.1,145.2 L370.4,145.2 L371.6,145.2 L372.9,145.2 L374.1,145.2 L375.4,145.2 L376.6,145.2 L377.9,145.2 L379.1,145.1 L380.4,145.1 L381.6,145.1 L382.9,145.1 L384.1,145.1 L385.4,145.1 L386.6,145.1 L387.9,145.1 L389.1,145.1 L390.4,145.1 L391.6,145.1 L392.9,145.0 L394.1,145.0 L395.4,145.0 L396.6,145.0 L397.9,145.0 L399.1,145.0 L400.4,145.0 L401.6,145.0 L402.9,145.0 L404.1,145.0 L405.4,145.0 L406.6,144.9 L407.9,144.9 L409.1,144.9 L410.4,144.9 L411.6,144.9 L412.9,144.9 L414.1,144.9 L415.4,144.9 L416.6,144.9 L417.9,144.9 L419.1,144.9 L420.4,144.9 L421.6,144.8 L422.9,144.8 L424.1,144.8 L425.4,144.8 L426.6,144.8 L427.9,144.8 L429.1,144.8 L430.4,144.8 L431.6,144.8 L432.9,144.8 L434.1,144.8 L435.4,144.8 L436.6,144.7 L437.9,144.7 L439.1,144.7 L440.4,144.7 L441.6,144.7 L442.9,144.7 L444.1,144.7 L445.4,144.7 L446.6,144.7 L447.9,144.7 L449.1,144.7 L450.4,144.7 L451.6,144.6 L452.9,144.6 L454.1,144.6 L455.4,144.6 L456.6,144.6 L457.9,144.6 L459.1,144.6 L460.4,144.6 L461.6,144.6 L462.9,144.6 L464.1,144.6 L465.4,144.6 L466.6,144.5 L467.9,144.5 L469.1,144.5 L470.4,144.5 L471.6,144.5 L472.9,144.5 L474.1,144.5 L475.4,144.5 L476.6,144.5 L477.9,144.5 L479.1,144.5 L480.4,144.4 L481.6,144.4 L482.9,144.4 L484.1,144.4 L485.4,144.4 L486.6,144.4 L487.9,144.4 L489.1,144.4 L490.4,144.4 L491.6,144.4 L492.9,144.4 L494.1,144.3 L495.4,144.3 L496.6,144.3 L497.9,144.3 L499.1,144.3 L500.4,144.3 L501.6,144.3 L502.9,144.3 L504.1,144.3 L505.4,144.3 L506.6,144.2 L507.9,144.2 L509.1,144.2 L510.4,144.2 L511.6,144.2 L512.9,144.2 L514.1,144.2 L515.4,144.2 L516.6,144.2 L517.9,144.1 L519.1,144.1 L520.4,144.1 L521.6,144.1 L522.9,144.1 L524.1,144.1 L525.4,144.1 L526.6,144.1 L527.9,144.0 L529.1,144.0 L530.4,144.0 L531.6,144.0 L532.9,144.0 L534.1,144.0 L535.4,144.0 L536.6,144.0 L537.9,143.9 L539.1,143.9 L540.4,143.9 L541.6,143.9 L542.9,143.9 L544.1,143.9 L545.4,143.9 L546.6,143.9 L547.9,143.8 L549.1,143.8 L550.4,143.8 L551.6,143.8 L552.9,143.8 L554.1,143.8 L555.4,143.8 L556.6,143.7 L557.9,143.7 L559.1,143.7 L560.4,143.7 L561.6,143.7 L562.9,143.7 L564.1,143.7 L565.4,143.7 L566.6,143.6 L567.9,143.6 L569.1,143.6 L570.4,143.6 L571.6,143.6 L572.9,143.6 L574.1,143.6 L575.4,143.6 L576.6,143.5 L577.9,143.5 L579.1,143.5 L580.4,143.5 L581.6,143.5 L582.9,143.5 L584.1,143.5 L585.4,143.5 L586.6,143.4 L587.9,143.4 L589.1,143.4 L590.4,143.4 L591.6,143.4 L592.9,143.4 L594.1,143.4 L595.4,143.4 L596.6,143.3 L597.9,143.3 L599.1,143.3 L600.4,143.3 L601.6,143.3 L602.9,143.3 L604.1,143.3 L605.4,143.3 L606.6,143.3 L607.9,143.2 L609.1,143.2 L610.4,143.2 L611.6,143.2 L612.9,143.2 L614.1,143.2 L615.4,143.2 L616.6,143.2 L617.9,143.2 L619.1,143.2 L620.4,143.2 L621.6,143.1 L622.9,143.1 L624.1,143.1 L625.4,143.1 L626.6,143.1 L627.9,143.1 L629.1,143.1 L630.4,143.1 L631.6,143.1 L632.9,143.1 L634.1,143.1 L635.4,143.1 L636.6,143.1 L637.9,143.1 L639.1,143.1 L640.4,143.0 L641.6,143.0 L642.9,143.0 L644.1,143.0 L645.4,143.0 L646.6,143.0 L647.9,143.0 L649.1,143.0 L650.4,143.0 L651.6,143.0 L652.9,143.0 L654.1,143.0 L655.4,143.0 L656.6,143.0 L657.9,143.0 L659.1,143.0 L660.4,143.0 L661.6,143.0 L662.9,143.0 L664.1,143.0 L665.4,143.0 L666.6,143.0 L667.9,143.0 L669.1,143.0 L670.4,143.0 L671.6,143.0 L672.9,143.0 L673.0,143.0" stroke="#7030a0" stroke-width="2.90" fill="none" stroke-linecap="round" stroke-dasharray="8.4 11.1" stroke-dashoffset="1.3"/>
<circle cx="672.9" cy="143.0" r="1.35" fill="#7030a0"/>
<path d="M63.2,233.0 L64.0,232.0 L64.7,231.1 L65.5,230.1 L66.2,229.2 L67.0,228.2 L67.7,227.3 L68.5,226.4 L69.5,225.1 L70.5,223.9 L71.5,222.6 L72.5,221.4 L73.5,220.2 L74.5,219.0 L75.5,217.8 L76.5,216.6 L77.5,215.4 L78.5,214.2 L79.5,213.0 L80.5,211.8 L81.5,210.6 L82.5,209.5 L83.5,208.3 L84.5,207.1 L85.5,206.0 L86.5,204.8 L87.5,203.7 L88.5,202.6 L89.5,201.4 L90.5,200.3 L91.5,199.2 L92.5,198.1 L93.5,197.0 L94.5,195.9 L95.5,194.8 L96.5,193.7 L97.5,192.6 L98.5,191.5 L99.5,190.4 L100.5,189.4 L101.5,188.3 L102.5,187.2 L103.5,186.2 L104.5,185.1 L105.5,184.1 L106.5,183.0 L107.5,182.0 L108.5,180.9 L109.5,179.9 L110.5,178.9 L111.5,177.8 L112.5,176.8 L113.5,175.8 L114.5,174.8 L115.5,173.8 L116.5,172.7 L117.5,171.8 L118.5,170.8 L119.5,169.8 L120.5,168.8 L121.5,167.8 L122.5,166.9 L123.5,165.9 L124.5,164.9 L125.5,164.0 L126.5,163.1 L127.5,162.1 L128.4,161.2 L129.4,160.3 L130.4,159.3 L131.4,158.4 L132.4,157.5 L133.4,156.6 L134.4,155.7 L135.4,154.8 L136.4,153.9 L137.4,153.0 L138.4,152.1 L139.4,151.3 L140.4,150.4 L141.4,149.5 L142.4,148.7 L143.4,147.8 L144.4,147.0 L145.4,146.2 L146.4,145.3 L147.4,144.5 L148.4,143.7 L149.4,142.9 L150.4,142.1 L151.4,141.3 L152.4,140.5 L153.4,139.8 L154.4,139.0 L155.4,138.3 L156.4,137.5 L157.4,136.8 L158.4,136.0 L159.4,135.3 L160.4,134.6 L161.4,133.9 L162.4,133.2 L163.4,132.5 L164.4,131.8 L165.4,131.1 L166.4,130.4 L167.4,129.8 L168.4,129.1 L169.4,128.4 L170.7,127.6 L171.9,126.8 L173.2,126.0 L174.4,125.3 L175.7,124.5 L176.9,123.8 L178.2,123.0 L179.4,122.3 L180.7,121.5 L181.9,120.7 L183.2,119.9 L184.4,119.1 L185.4,118.4 L186.4,117.8 L187.4,117.1 L188.4,116.4 L189.4,115.7 L190.4,115.0 L191.4,114.3 L192.4,113.6 L193.4,112.9 L194.4,112.2 L195.4,111.5 L196.7,110.7 L197.9,109.9 L199.2,109.1 L200.4,108.3 L201.7,107.6 L202.9,106.8 L204.2,106.1 L205.4,105.4 L206.7,104.8 L207.9,104.3 L209.2,103.7 L210.4,103.2 L211.7,102.7 L212.9,102.2 L214.2,101.8 L215.4,101.4 L216.7,101.1 L217.9,100.8 L219.2,100.5 L220.4,100.3 L221.7,100.1 L222.9,99.9 L224.2,99.7 L225.4,99.5 L226.7,99.4 L227.9,99.2 L229.2,99.1 L230.4,99.0 L231.7,98.9 L232.9,98.8 L234.2,98.7 L235.4,98.6 L236.7,98.5 L237.9,98.4 L239.2,98.3 L240.4,98.3 L241.7,98.2 L242.9,98.1 L244.2,98.0 L245.4,97.9 L246.7,97.8 L247.9,97.7 L249.2,97.6 L250.4,97.5 L251.7,97.3 L252.9,97.2 L254.2,97.1 L255.4,97.0 L256.7,96.9 L257.9,96.8 L259.2,96.7 L260.4,96.5 L261.7,96.4 L262.9,96.3 L264.2,96.2 L265.4,96.1 L266.7,95.9 L267.9,95.8 L269.2,95.7 L270.4,95.6 L271.7,95.5 L272.9,95.3 L274.2,95.2 L275.4,95.1 L276.7,95.0 L277.9,94.9 L279.2,94.8 L280.4,94.6 L281.7,94.5 L282.9,94.4 L284.2,94.3 L285.4,94.2 L286.7,94.1 L287.9,94.0 L289.2,93.9 L290.4,93.8 L291.7,93.7 L292.9,93.5 L294.2,93.4 L295.4,93.3 L296.7,93.3 L297.9,93.2 L299.2,93.1 L300.4,93.0 L301.7,92.9 L302.9,92.8 L304.2,92.7 L305.4,92.6 L306.7,92.5 L307.9,92.4 L309.2,92.3 L310.4,92.2 L311.7,92.1 L312.9,92.0 L314.2,91.9 L315.4,91.8 L316.7,91.7 L317.9,91.6 L319.2,91.6 L320.4,91.5 L321.7,91.4 L322.9,91.3 L324.2,91.2 L325.4,91.1 L326.7,91.0 L327.9,90.9 L329.2,90.8 L330.4,90.7 L331.7,90.7 L332.9,90.6 L334.2,90.5 L335.4,90.4 L336.7,90.3 L337.9,90.2 L339.2,90.1 L340.4,90.0 L341.7,90.0 L342.9,89.9 L344.2,89.8 L345.4,89.7 L346.7,89.6 L347.9,89.5 L349.2,89.5 L350.4,89.4 L351.7,89.3 L352.9,89.2 L354.2,89.1 L355.4,89.0 L356.7,89.0 L357.9,88.9 L359.2,88.8 L360.4,88.7 L361.7,88.6 L362.9,88.5 L364.2,88.5 L365.4,88.4 L366.7,88.3 L367.9,88.2 L369.2,88.1 L370.4,88.1 L371.7,88.0 L372.9,87.9 L374.2,87.8 L375.4,87.7 L376.7,87.7 L377.9,87.6 L379.2,87.5 L380.4,87.4 L381.7,87.3 L382.9,87.3 L384.2,87.2 L385.4,87.1 L386.7,87.0 L387.9,86.9 L389.2,86.9 L390.4,86.8 L391.7,86.7 L392.9,86.6 L394.2,86.6 L395.4,86.5 L396.7,86.4 L397.9,86.3 L399.2,86.2 L400.4,86.2 L401.7,86.1 L402.9,86.0 L404.2,85.9 L405.4,85.9 L406.7,85.8 L407.9,85.7 L409.2,85.6 L410.4,85.5 L411.7,85.5 L412.9,85.4 L414.2,85.3 L415.4,85.2 L416.7,85.2 L417.9,85.1 L419.2,85.0 L420.4,84.9 L421.7,84.9 L422.9,84.8 L424.2,84.7 L425.4,84.6 L426.7,84.5 L427.9,84.5 L429.2,84.4 L430.4,84.3 L431.7,84.2 L432.9,84.2 L434.2,84.1 L435.4,84.0 L436.7,83.9 L437.9,83.9 L439.2,83.8 L440.4,83.7 L441.7,83.6 L442.9,83.5 L444.2,83.5 L445.4,83.4 L446.7,83.3 L447.9,83.2 L449.2,83.2 L450.4,83.1 L451.7,83.0 L452.9,82.9 L454.2,82.9 L455.4,82.8 L456.7,82.7 L457.9,82.6 L459.2,82.5 L460.4,82.5 L461.7,82.4 L462.9,82.3 L464.2,82.2 L465.4,82.1 L466.7,82.1 L467.9,82.0 L469.2,81.9 L470.4,81.8 L471.7,81.7 L472.9,81.7 L474.2,81.6 L475.4,81.5 L476.7,81.4 L477.9,81.3 L479.2,81.3 L480.4,81.2 L481.7,81.1 L482.9,81.0 L484.2,80.9 L485.4,80.9 L486.7,80.8 L487.9,80.7 L489.2,80.6 L490.4,80.5 L491.7,80.5 L492.9,80.4 L494.2,80.3 L495.4,80.2 L496.7,80.1 L497.9,80.0 L499.2,80.0 L500.4,79.9 L501.7,79.8 L502.9,79.7 L504.2,79.6 L505.4,79.5 L506.7,79.4 L507.9,79.4 L509.2,79.3 L510.4,79.2 L511.7,79.1 L513.0,79.0 L514.2,78.9 L515.5,78.9 L516.7,78.8 L518.0,78.7 L519.2,78.6 L520.5,78.5 L521.7,78.4 L523.0,78.4 L524.2,78.3 L525.5,78.2 L526.7,78.1 L528.0,78.0 L529.2,77.9 L530.5,77.8 L531.7,77.8 L533.0,77.7 L534.2,77.6 L535.5,77.5 L536.7,77.4 L538.0,77.3 L539.2,77.2 L540.5,77.2 L541.7,77.1 L543.0,77.0 L544.2,76.9 L545.5,76.8 L546.7,76.7 L548.0,76.7 L549.2,76.6 L550.5,76.5 L551.7,76.4 L553.0,76.3 L554.2,76.2 L555.5,76.1 L556.7,76.1 L558.0,76.0 L559.2,75.9 L560.5,75.8 L561.7,75.7 L563.0,75.6 L564.2,75.5 L565.5,75.5 L566.7,75.4 L568.0,75.3 L569.2,75.2 L570.5,75.1 L571.7,75.0 L573.0,74.9 L574.2,74.9 L575.5,74.8 L576.7,74.7 L578.0,74.6 L579.2,74.5 L580.5,74.4 L581.7,74.3 L583.0,74.3 L584.2,74.2 L585.5,74.1 L586.7,74.0 L588.0,73.9 L589.2,73.8 L590.5,73.7 L591.7,73.7 L593.0,73.6 L594.2,73.5 L595.5,73.4 L596.7,73.3 L598.0,73.2 L599.2,73.1 L600.5,73.1 L601.7,73.0 L603.0,72.9 L604.2,72.8 L605.5,72.7 L606.7,72.6 L608.0,72.5 L609.2,72.4 L610.5,72.4 L611.7,72.3 L613.0,72.2 L614.2,72.1 L615.5,72.0 L616.7,71.9 L618.0,71.8 L619.2,71.8 L620.5,71.7 L621.7,71.6 L623.0,71.5 L624.2,71.4 L625.5,71.3 L626.7,71.2 L628.0,71.1 L629.2,71.1 L630.5,71.0 L631.7,70.9 L633.0,70.8 L634.2,70.7 L635.5,70.6 L636.7,70.5 L638.0,70.4 L639.2,70.4 L640.5,70.3 L641.7,70.2 L643.0,70.1 L644.2,70.0 L645.5,69.9 L646.7,69.8 L648.0,69.8 L649.2,69.7 L650.5,69.6 L651.7,69.5 L653.0,69.4 L654.2,69.3 L655.5,69.2 L656.7,69.1 L658.0,69.1 L659.2,69.0 L660.5,68.9 L661.7,68.8 L663.0,68.7 L664.2,68.6 L665.5,68.5 L666.7,68.4 L668.0,68.4 L669.2,68.3 L670.5,68.2 L671.7,68.1 L673.0,68.0 L673.0,68.0" stroke="#5b9bd5" stroke-width="2.90" fill="none" stroke-linecap="round" stroke-dasharray="0 5.56"/>
<path d="M155.0,18.9 V432.5" stroke="#808080" stroke-width="2.2" fill="none"/>
<path d="M546.2,276.4 H591.6" stroke="#5b9bd5" stroke-width="2.90" stroke-linecap="round" stroke-dasharray="0 5.6"/>
<path d="M546.8,307.8 H591.7" stroke="#9dbf88" stroke-width="3.7" stroke-linecap="round"/>
<circle cx="545.8" cy="307.8" r="1.1" fill="#4f8a32"/><circle cx="592.5" cy="307.8" r="1.1" fill="#4f8a32"/>
<path d="M546.2,339.2 H592.4" stroke="#a5a5a5" stroke-width="1.1"/>
<path d="M546.2,370.9 H591.6" stroke="#ff0000" stroke-width="2.90" stroke-linecap="round" stroke-dasharray="0 5.6"/>
<path d="M546.6,402.4 H591.4" stroke="#7030a0" stroke-width="2.90" stroke-linecap="round" stroke-dasharray="8.3 11.2"/>
<text x="596.57" y="280.90" font-size="14.80" textLength="54.50" lengthAdjust="spacingAndGlyphs" fill="#595959">Ideal 1D</text>
<text x="597.29" y="312.30" font-size="14.80" textLength="26.47" lengthAdjust="spacingAndGlyphs" fill="#595959">TOP</text>
<text x="596.29" y="343.80" font-size="14.80" textLength="67.04" lengthAdjust="spacingAndGlyphs" fill="#595959">Isentropic</text>
<text x="597.19" y="375.10" font-size="14.80" textLength="21.13" lengthAdjust="spacingAndGlyphs" fill="#595959">TIC</text>
<text x="597.17" y="406.50" font-size="14.80" textLength="48.22" lengthAdjust="spacingAndGlyphs" fill="#595959">Conical</text>
</svg></body></html>
